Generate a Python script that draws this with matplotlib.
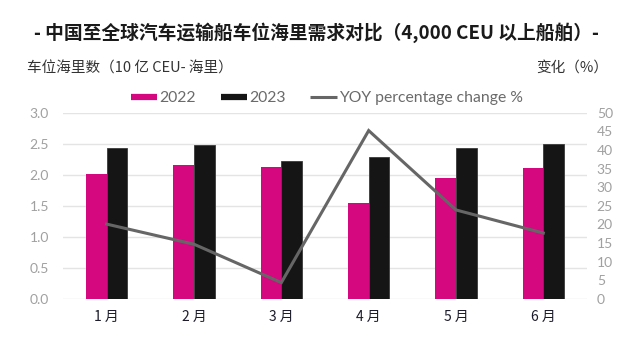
import matplotlib
matplotlib.use("Agg")
import matplotlib.pyplot as plt
from matplotlib.lines import Line2D
import numpy as np

plt.rcParams['font.family'] = ['Noto Sans CJK SC', 'DejaVu Sans']

months = ["1 月", "2 月", "3 月", "4 月", "5 月", "6 月"]
v2022 = [2.01, 2.16, 2.12, 1.55, 1.95, 2.11]
v2023 = [2.43, 2.48, 2.23, 2.28, 2.43, 2.50]
yoy = [20.1, 14.7, 4.4, 45.2, 23.9, 17.7]
left_ticks = [0.0, 0.5, 1.0, 1.5, 2.0, 2.5, 3.0]
right_ticks = list(range(0, 51, 5))

PINK = "#D6087F"
BLACK = "#151515"
GRAY_LINE = "#666666"
TICK_GRAY = "#a0a0a0"

fig = plt.figure(figsize=(6.32, 3.42), dpi=100)
ax = fig.add_axes([0.0997, 0.1257, 0.8291, 0.5448])
ax2 = ax.twinx()

x = np.arange(len(months))
w = 0.235
ax.bar(x - w/2, v2022, w, color=PINK, zorder=3)
ax.bar(x + w/2, v2023, w, color=BLACK, edgecolor="#3a3a3a", linewidth=0.6, zorder=3)

ax.set_ylim(0, 3.0)
ax.set_xlim(-0.5, len(months) - 0.5)
ax.set_yticks(left_ticks)
ax.set_yticklabels([f"{t:.1f}" for t in left_ticks], family=['Lato', 'DejaVu Sans'])
ax.yaxis.grid(True, color="#e4e4e4", linewidth=1.0, zorder=0)
ax.set_axisbelow(True)
ax.set_xticks(x)
ax.set_xticklabels(months, fontsize=10, color="#1c1c2c")
ax.tick_params(axis='x', length=0, pad=8)
ax.tick_params(axis='y', length=0, pad=10, labelsize=10, labelcolor=TICK_GRAY)
for s in ax.spines.values():
    s.set_visible(False)
for s in ax2.spines.values():
    s.set_visible(False)

ax2.plot(x, yoy, color=GRAY_LINE, linewidth=2.2, zorder=5, solid_joinstyle='miter')
ax2.set_ylim(0, 50)
ax2.set_yticks(right_ticks)
ax2.set_yticklabels([str(t) for t in right_ticks], family=['Lato', 'DejaVu Sans'])
ax2.tick_params(axis='y', length=0, pad=7, labelsize=10, labelcolor=TICK_GRAY)

handles = [
    Line2D([0], [0], color=PINK, linewidth=4.5, solid_capstyle='butt'),
    Line2D([0], [0], color=BLACK, linewidth=4.5, solid_capstyle='butt'),
    Line2D([0], [0], color=GRAY_LINE, linewidth=2.2, solid_capstyle='butt'),
]
leg = fig.legend(handles, ["2022", "2023", "YOY percentage change %"],
                 loc='center', bbox_to_anchor=(0.517, 0.713), ncol=3, frameon=False,
                 handlelength=1.7, handletextpad=0.1, columnspacing=1.6,
                 prop={'family': ['Lato', 'DejaVu Sans'], 'size': 11.3})
for t in leg.get_texts():
    t.set_color("#6a6a6a")

fig.text(0.5, 0.905, "- 中国至全球汽车运输船车位海里需求对比（4,000 CEU 以上船舶）-",
         ha='center', va='center', fontsize=13.5, fontweight='bold', color="#1a1a1a")
fig.text(0.042, 0.80, "车位海里数（10 亿 CEU- 海里）", ha='left', va='center',
         fontsize=10.5, color="#333333")
fig.text(0.963, 0.80, "变化（%）", ha='right', va='center',
         fontsize=10.5, color="#333333")

fig.savefig("out.png", dpi=100, facecolor="white")
